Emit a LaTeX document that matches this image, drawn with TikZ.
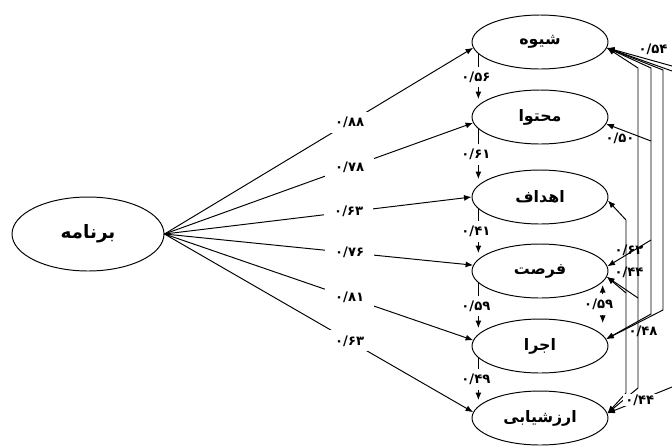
\documentclass[tikz,border=0pt]{standalone}
\usepackage{fontspec}
\usetikzlibrary{arrows.meta,shapes.geometric}
\TeXXeTstate=1
\newfontfamily\arabicfont[Script=Arabic]{DejaVu Sans}
\begin{document}
\begin{tikzpicture}[x=0.02cm,y=-0.02cm,line width=0.55pt,
  fac/.style={ellipse, draw, minimum width=2.72cm, minimum height=1.08cm, inner sep=0pt,
    font=\arabicfont\bfseries\fontsize{9}{10}\selectfont},
  lab/.style={font=\arabicfont\bfseries\fontsize{7.5}{8.5}\selectfont, inner sep=1pt},
  gap/.style={lab, fill=white, inner xsep=2mm, inner ysep=1mm},
  vgap/.style={lab, fill=white, inner xsep=1pt, inner ysep=1mm},
  arr/.style={-{Latex[length=1.5mm,width=1.2mm]}},
  darr/.style={{Latex[length=1.5mm,width=1.2mm]}-{Latex[length=1.5mm,width=1.2mm]}},
]
\useasboundingbox (0,0) rectangle (672,447);

\node[fac, minimum width=3.04cm, minimum height=1.48cm, font=\arabicfont\bfseries\fontsize{10.5}{12}\selectfont] (P) at (88,234) {\beginR برنامه\endR};
\node[fac] (S1) at (540,42)  {\beginR شیوه\endR};
\node[fac] (S2) at (540,117) {\beginR محتوا\endR};
\node[fac] (S3) at (540,197) {\beginR اهداف\endR};
\node[fac] (S4) at (540,271) {\beginR فرصت\endR};
\node[fac] (S5) at (540,346) {\beginR اجرا\endR};
\node[fac] (S6) at (540,418) {\beginR ارزشیابی\endR};

% loadings from the second-order factor
\draw[arr] (P.east) -- node[gap,pos=0.6] (L1) {۰/۸۸} (S1.185);
\draw[arr] (P.east) -- node[gap,pos=0.6] (L2) {۰/۷۸} (S2.185);
\draw[arr] (P.east) -- node[gap,pos=0.6] (L3) {۰/۶۳} (S3.west);
\draw[arr] (P.east) -- node[gap,pos=0.6] (L4) {۰/۷۶} (S4.175);
\draw[arr] (P.east) -- node[gap,pos=0.6] (L5) {۰/۸۱} (S5.175);
\draw[arr] (P.east) -- node[gap,pos=0.6] (L6) {۰/۶۳} (S6.175);

% chain on the left
\draw[arr, shorten >=1.2mm] (S1.191) -- node[vgap,pos=0.45,xshift=-0.5mm] (V1) {۰/۵۶} (S2.169);
\draw[arr, shorten >=1.2mm] (S2.191) -- node[vgap,pos=0.45,xshift=-0.5mm] (V2) {۰/۶۱} (S3.169);
\draw[arr, shorten >=1.2mm] (S3.191) -- node[vgap,pos=0.45,xshift=-0.5mm] (V3) {۰/۴۱} (S4.169);
\draw[arr, shorten >=1.2mm] (S4.191) -- node[vgap,pos=0.45,xshift=-0.5mm] (V4) {۰/۵۹} (S5.169);
\draw[arr, shorten >=1.2mm] (S5.191) -- node[vgap,pos=0.45,xshift=-0.5mm] (V5) {۰/۴۹} (S6.169);

% right side correlations
\coordinate (a1) at (638,68);  \coordinate (a2) at (638,388);
\coordinate (b1) at (651,68);  \coordinate (b2) at (651,314);
\coordinate (c1) at (663,70);  \coordinate (c2) at (663,310);
\coordinate (d1) at (626,220); \coordinate (d2) at (626,393);
\coordinate (e1) at (672,66);  \coordinate (e2) at (672,71); \coordinate (e3) at (672,387);
\coordinate (b3) at (651,141); \coordinate (b4) at (651,240);
\coordinate (d3) at (626,293); \coordinate (a3) at (638,298);

\draw[darr] (S1.-5) -- (a1) -- (a2) -- (S6.4);
\draw[darr] (S1.-5) -- (b1) -- (b2) -- (S5.6);
\draw[darr] (S1.-5) -- (c1) -- (c2) -- (S5.6);
\draw[darr] (S3.-3) -- (d1) -- (d2) -- (S6.4);
\draw[arr] (e1) -- (S1.-5);
\draw[arr] (e2) -- (S1.-5);
\draw[arr] (e3) -- node[vgap,inner xsep=1.5pt,inner ysep=0.5pt,pos=0.5] (R7) {۰/۴۴} (S6.4);
\draw[arr] (b3) -- (S2.-6);
\draw[arr] (b4) -- (S4.4);
\draw[arr] (d3) -- (S4.-5);
\draw[arr] (a3) -- (S4.-5);
\draw[darr, shorten <=0.6mm, shorten >=2.4mm] (S4.-10) -- node[vgap,pos=0.43,xshift=-0.8mm] (R5) {۰/۵۹} (S5.10);

\node[lab] (R1) at (653,49)  {۰/۵۴};
\node[lab] (R2) at (620,138) {۰/۵۰};
\node[lab] (R3) at (629,250) {۰/۶۲};
\node[lab] (R4) at (629,272) {۰/۴۴};
\node[lab] (R6) at (643,331) {۰/۴۸};
\end{tikzpicture}
\end{document}
